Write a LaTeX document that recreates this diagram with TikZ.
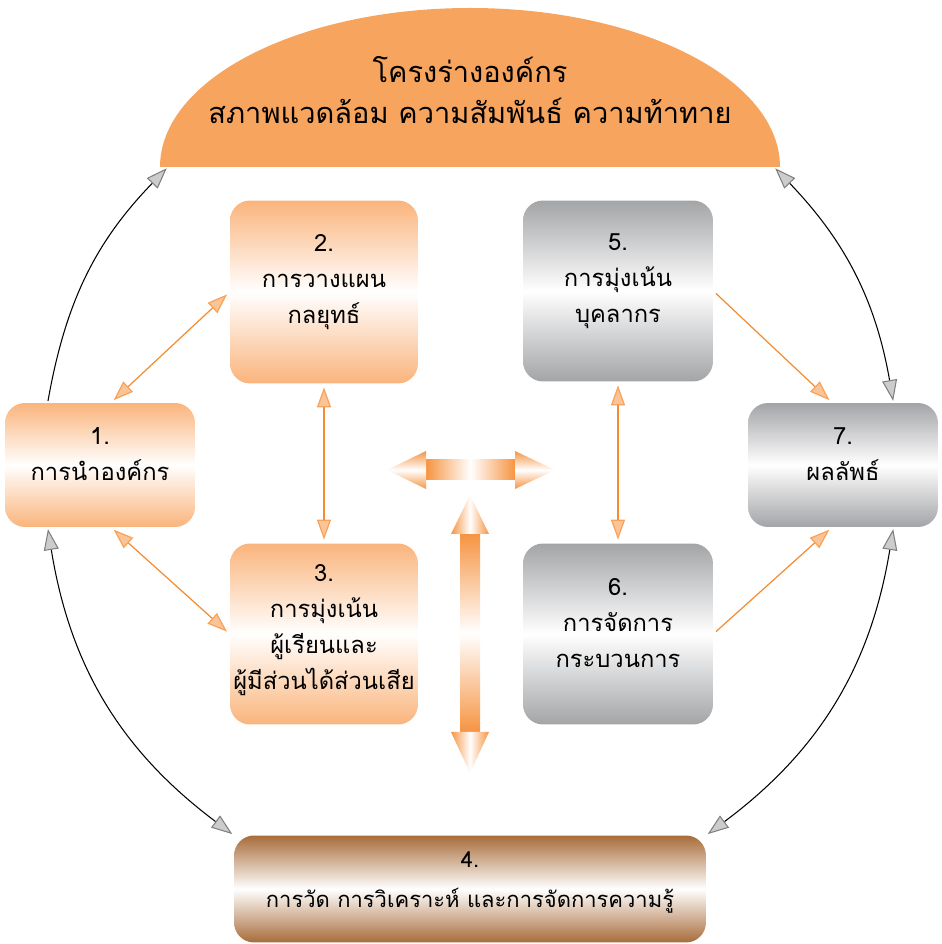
\documentclass[tikz,border=0pt]{standalone}
\usepackage{fontspec}
\newfontfamily\thaifont[Script=Thai]{Loma}
\usetikzlibrary{arrows.meta}

\definecolor{orgorange}{RGB}{246,164,94}
\definecolor{boxorange}{RGB}{250,180,124}
\definecolor{boxgray}{RGB}{163,164,167}
\definecolor{boxbrown}{RGB}{168,108,58}
\definecolor{lineorange}{RGB}{245,140,50}
\definecolor{tiporange}{RGB}{251,196,150}
\definecolor{bigorange}{RGB}{246,148,66}

\begin{document}
\begin{tikzpicture}[x=0.02cm, y=0.02cm,
  every node/.style={font=\thaifont\fontsize{13.5}{20.5}\selectfont, align=center, inner sep=0pt},
  obox/.style={rounded corners=0.4cm, top color=boxorange, bottom color=boxorange, middle color=white},
  gbox/.style={rounded corners=0.4cm, top color=boxgray, bottom color=boxgray, middle color=white},
  bbox/.style={rounded corners=0.4cm, top color=boxbrown, bottom color=boxbrown, middle color=white},
  otip/.tip={Triangle[length=0.4cm, width=0.28cm, fill=tiporange, color=lineorange!80]},
  gtip/.tip={Triangle[length=0.42cm, width=0.3cm, fill=gray!40, color=gray]},
  orangeline/.style={draw=lineorange, line width=0.7pt, shorten >=2pt, shorten <=2pt},
  blackline/.style={draw=black, line width=0.6pt, shorten >=1pt, shorten <=1pt}]

\useasboundingbox (0,0) rectangle (941,944);

% organisational profile
\fill [orgorange] (160,777) arc [start angle=180, end angle=0, x radius=310, y radius=159] -- cycle;
\node [font=\thaifont\fontsize{16.5}{23}\selectfont] (org) at (470,854) {โครงร่างองค์กร\\ สภาพแวดล้อม ความสัมพันธ์ ความท้าทาย};
\coordinate (orgL) at (168,777);
\coordinate (orgR) at (774,777);

% boxes (the empty last line lifts the text a little)
\node [obox, minimum width=3.8cm, minimum height=2.48cm] (box1) at (100,479) {1.\\ การนำองค์กร\\[-8pt]\mbox{}};
\node [obox, minimum width=3.76cm, minimum height=3.66cm] (box2) at (324,652) {2.\\ การวางแผน\\ กลยุทธ์\\[-6pt]\mbox{}};
\node [obox, minimum width=3.76cm, minimum height=3.62cm] (box3) at (324,310) {3.\\ การมุ่งเน้น\\ ผู้เรียนและ\\ ผู้มีส่วนได้ส่วนเสีย\\[-12pt]\mbox{}};
\node [bbox, minimum width=9.44cm, minimum height=2.14cm, font=\thaifont\fontsize{12.5}{23}\selectfont] (box4) at (470,55)
  {4.\\ การวัด การวิเคราะห์ และการจัดการความรู้\\[-12pt]\mbox{}};
\node [gbox, minimum width=3.8cm, minimum height=3.62cm] (box5) at (618,653) {5.\\ การมุ่งเน้น\\ บุคลากร\\[-6pt]\mbox{}};
\node [gbox, minimum width=3.8cm, minimum height=3.62cm] (box6) at (618,310) {6.\\ การจัดการ\\ กระบวนการ\\[-8pt]\mbox{}};
\node [gbox, minimum width=3.8cm, minimum height=2.48cm] (box7) at (843,479) {7.\\ ผลลัพธ์\\[-8pt]\mbox{}};

% links between boxes
\draw [orangeline, {otip}-{otip}] (box1.80) -- (box2.west);
\draw [orangeline, {otip}-{otip}] (box1.-80) -- (box3.west);
\draw [orangeline, {otip}-{otip}] (box2.south) -- (box3.north);
\draw [orangeline, {otip}-{otip}] (box5.south) -- (box6.north);
\draw [orangeline, -{otip}] (box5.east) -- (box7.100);
\draw [orangeline, -{otip}] (box6.east) -- (box7.-100);

% outer ring
\draw [blackline, -{gtip}] (box1.130) to [bend left=17] (orgL);
\draw [blackline, {gtip}-{gtip}] (orgR) to [bend left=17] (box7.51);
\draw [blackline, {gtip}-{gtip}] (box1.-130) to [bend right=22] (box4.north west);
\draw [blackline, {gtip}-{gtip}] (box7.-51) to [bend left=22] (box4.north east);

% big arrows in the middle
\shade [left color=bigorange, right color=bigorange, middle color=white] (426,464) rectangle (515,484);
\shade [top color=bigorange, bottom color=bigorange, middle color=white] (387,474) -- (426,493) -- (426,455) -- cycle;
\shade [top color=bigorange, bottom color=bigorange, middle color=white] (555,474) -- (515,493) -- (515,455) -- cycle;
\shade [top color=bigorange, bottom color=bigorange, middle color=white] (460,212) rectangle (480,410);
\shade [left color=bigorange, right color=bigorange, middle color=white] (470,449) -- (451,410) -- (489,410) -- cycle;
\shade [left color=bigorange, right color=bigorange, middle color=white] (470,171) -- (451,212) -- (489,212) -- cycle;

\end{tikzpicture}
\end{document}
